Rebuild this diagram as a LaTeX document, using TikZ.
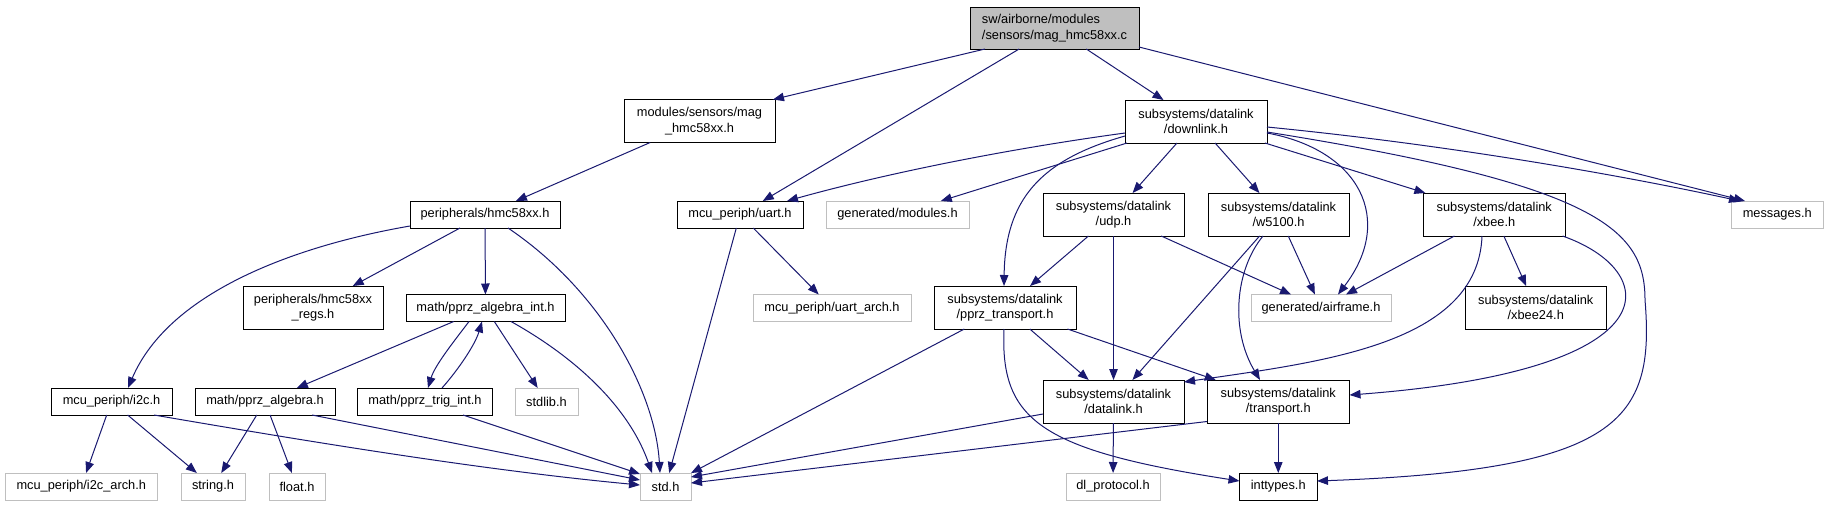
\documentclass[tikz,border=0pt]{standalone}
\usepackage{fontspec}
\setmainfont{Liberation Sans}
\usepackage{tikz}
\usetikzlibrary{arrows.meta}
\definecolor{edgeblue}{HTML}{191970}
\definecolor{leafgray}{HTML}{BFBFBF}
\tikzset{
  every picture/.style={font=\fontsize{12.8}{15.5}\selectfont, >={Triangle[length=11pt,width=8.5pt]}},
  hdr/.style={draw=black, fill=white, line width=1pt, inner sep=0pt, outer sep=0pt, align=center, minimum height=27pt},
  hdrtwo/.style={hdr, minimum height=43pt},
  leaf/.style={hdr, draw=leafgray},
  rootbox/.style={hdr, fill=leafgray, align=left, minimum height=42pt},
  dep/.style={->, draw=edgeblue, line width=1pt},
}

\begin{document}
\begin{tikzpicture}[x=1pt,y=-1pt]
\useasboundingbox (0,0) rectangle (1828,507);
\node[rootbox, minimum width=169pt] (root) at (1054.5,28) {sw/airborne/modules\\/sensors/mag\_hmc58xx.c};
\node[hdrtwo, minimum width=151pt] (maghdr) at (699.5,121) {modules/sensors/mag\\\_hmc58xx.h};
\node[hdrtwo, minimum width=142pt] (dlink) at (1196,121.5) {subsystems/datalink\\/downlink.h};
\node[hdr, minimum width=150pt] (hmc) at (485,214.5) {peripherals/hmc58xx.h};
\node[hdr, minimum width=126pt] (uart) at (740,214.5) {mcu\_periph/uart.h};
\node[leaf, minimum width=143pt] (genmod) at (897.5,214.5) {generated/modules.h};
\node[hdrtwo, minimum width=141pt] (udp) at (1113.5,214.5) {subsystems/datalink\\/udp.h};
\node[hdrtwo, minimum width=141pt] (wfivek) at (1278.5,214.5) {subsystems/datalink\\/w5100.h};
\node[hdrtwo, minimum width=141.5pt] (xbee) at (1494.25,214.5) {subsystems/datalink\\/xbee.h};
\node[leaf, minimum width=92.5pt] (msgs) at (1777.25,214.5) {messages.h};
\node[hdrtwo, minimum width=140pt] (regs) at (313,307.5) {peripherals/hmc58xx\\\_regs.h};
\node[hdr, minimum width=159pt] (algint) at (485.5,308) {math/pprz\_algebra\_int.h};
\node[leaf, minimum width=158pt] (uartarch) at (832,308) {mcu\_periph/uart\_arch.h};
\node[hdrtwo, minimum width=142pt] (pprztr) at (1005,307.5) {subsystems/datalink\\/pprz\_transport.h};
\node[leaf, minimum width=140pt] (airframe) at (1321,308) {generated/airframe.h};
\node[hdrtwo, minimum width=141.5pt] (xbeetf) at (1535.75,307.5) {subsystems/datalink\\/xbee24.h};
\node[hdr, minimum width=121pt] (iic) at (111.5,401.5) {mcu\_periph/i2c.h};
\node[hdr, minimum width=140pt] (palg) at (265,401.5) {math/pprz\_algebra.h};
\node[hdr, minimum width=135pt] (trig) at (425,401.5) {math/pprz\_trig\_int.h};
\node[leaf, minimum width=63pt] (stdlib) at (546.5,401.5) {stdlib.h};
\node[hdrtwo, minimum width=141pt] (datalink) at (1113.5,401.5) {subsystems/datalink\\/datalink.h};
\node[hdrtwo, minimum width=142.5pt] (transport) at (1278.25,401.5) {subsystems/datalink\\/transport.h};
\node[leaf, minimum width=151.5pt] (iicarch) at (81.25,486.5) {mcu\_periph/i2c\_arch.h};
\node[leaf, minimum width=64pt] (strh) at (213,486.5) {string.h};
\node[leaf, minimum width=56pt] (floath) at (297,486.5) {float.h};
\node[leaf, minimum width=51pt] (stdh) at (665.5,486.5) {std.h};
\node[leaf, minimum width=94pt] (dlproto) at (1113,486.5) {dl\_protocol.h};
\node[hdr, minimum width=77.5pt] (inttypes) at (1278.25,486.5) {inttypes.h};

\draw[dep] ([xshift=15pt]root.south west) -- ([xshift=-2pt]maghdr.north east);
\draw[dep] (root) -- (uart);
\draw[dep] (root) -- (dlink);
\draw[dep] ([yshift=2pt]root.south east) -- ([xshift=14pt]msgs.north west);
\draw[dep] (maghdr) -- (hmc);
\draw[dep] ([yshift=2pt]hmc.south west) .. controls (300,245) and (170,290) .. ([xshift=77pt]iic.north west);
\draw[dep] (hmc) -- (regs);
\draw[dep] (hmc) -- (algint);
\draw[dep] ([xshift=98pt]hmc.south west) .. controls (600,290) and (655,390) .. ([xshift=20pt]stdh.north west);
\draw[dep] (uart) -- (stdh);
\draw[dep] (uart) -- (uartarch);
\draw[dep] ([yshift=-33pt]dlink.north west) .. controls (1000,150) and (880,175) .. ([xshift=-16pt]uart.north east);
\draw[dep] (dlink) -- (genmod);
\draw[dep] ([yshift=-36pt]dlink.north west) .. controls (1040,160) and (1005,200) .. ([xshift=70pt]pprztr.north west);
\draw[dep] (dlink) -- (udp);
\draw[dep] (dlink) -- (wfivek);
\draw[dep] (dlink) -- (xbee);
\draw[dep] ([yshift=-33pt]dlink.north east) .. controls (1360,150) and (1395,220) .. ([xshift=87pt]airframe.north west);
\draw[dep] ([yshift=-27pt]dlink.north east) .. controls (1450,145) and (1620,175) .. ([xshift=9pt]msgs.north west);
\draw[dep] ([yshift=-32pt]dlink.north east) .. controls (1600,185) and (1645,230) .. (1645,300)
  .. controls (1655,420) and (1620,470) .. ([yshift=-8pt]inttypes.north east);
\draw[dep] (udp) -- (pprztr);
\draw[dep] (udp) -- (datalink);
\draw[dep] (udp) -- (airframe);
\draw[dep] (wfivek) -- (datalink);
\draw[dep] ([xshift=55pt]wfivek.south west) .. controls (1235,270) and (1230,330) .. ([xshift=53pt]transport.north west);
\draw[dep] (wfivek) -- (airframe);
\draw[dep] (xbee) -- (airframe);
\draw[dep] ([xshift=58.5pt]xbee.south west) .. controls (1478,345) and (1320,362) .. ([yshift=-2pt]datalink.north east);
\draw[dep] (xbee) -- (xbeetf);
\draw[dep] ([xshift=-2.5pt]xbee.south east) .. controls (1660,270) and (1680,370) .. ([yshift=-15pt]transport.north east);
\draw[dep] (pprztr) -- (stdh);
\draw[dep] (pprztr) -- (datalink);
\draw[dep] (pprztr) -- (transport);
\draw[dep] ([xshift=70pt]pprztr.south west) .. controls (1000,420) and (1040,450) .. ([yshift=-8pt]inttypes.north west);
\draw[dep] ([yshift=9pt]datalink.south west) -- ([yshift=-4pt]stdh.north east);
\draw[dep] (datalink) -- (dlproto);
\draw[dep] ([yshift=1.5pt]transport.south west) -- ([yshift=-10pt]stdh.north east);
\draw[dep] (transport) -- (inttypes);
\draw[dep] (algint) -- (palg);
\draw[dep] ([xshift=63pt]algint.south west) .. controls (455,340) and (435,365) .. ([xshift=70.5pt]trig.north west);
\draw[dep] ([xshift=84.5pt]trig.north west) .. controls (458,370) and (475,345) .. ([xshift=76pt]algint.south west);
\draw[dep] (algint) -- (stdlib);
\draw[dep] ([xshift=105pt]algint.south west) .. controls (580,360) and (630,410) .. ([xshift=12pt]stdh.north west);
\draw[dep] (iic) -- (iicarch);
\draw[dep] (iic) -- (strh);
\draw[dep] ([xshift=103pt]iic.south west) .. controls (300,440) and (480,470) .. ([yshift=-12pt]stdh.north west);
\draw[dep] (palg) -- (strh);
\draw[dep] (palg) -- (floath);
\draw[dep] ([xshift=117pt]palg.south west) -- ([yshift=-7pt]stdh.north west);
\draw[dep] ([xshift=105.5pt]trig.south west) -- ([yshift=-1pt]stdh.north west);
\end{tikzpicture}
\end{document}
